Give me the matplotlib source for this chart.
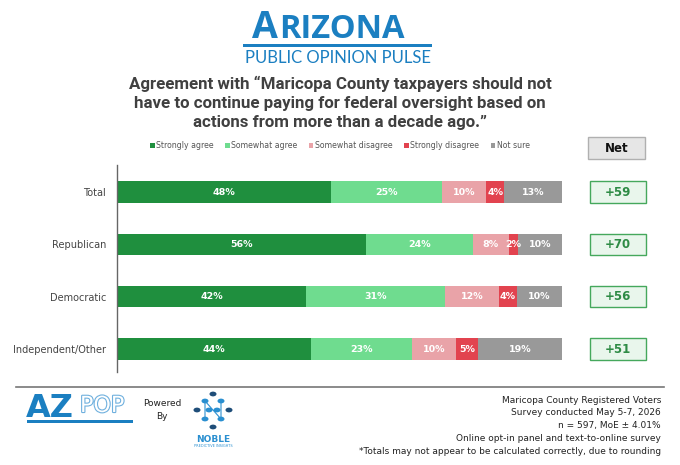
import numpy as np
import matplotlib
matplotlib.use("Agg")
import matplotlib.pyplot as plt
import matplotlib.patheffects as pe
from matplotlib.patches import Rectangle, Circle

W, H = 680, 465

groups = ["Total", "Republican", "Democratic", "Independent/Other"]
responses = ["Strongly agree", "Somewhat agree", "Somewhat disagree", "Strongly disagree", "Not sure"]
strongly_agree = [48, 56, 42, 44]
somewhat_agree = [25, 24, 31, 23]
somewhat_disagree = [10, 8, 12, 10]
strongly_disagree = [4, 2, 4, 5]
not_sure = [13, 10, 10, 19]
net = ["+59", "+70", "+56", "+51"]

colors = ["#1f8f3e", "#6fdc8f", "#e9a3a8", "#e2434f", "#999999"]
series = [strongly_agree, somewhat_agree, somewhat_disagree, strongly_disagree, not_sure]


def fx(px):
    return px / W


def fy(py):
    return 1 - py / H


fig = plt.figure(figsize=(6.8, 4.65), dpi=100)
fig.patch.set_facecolor("white")

# main bar axes - rows are scaled to fill 100% (rounding)
ax = fig.add_axes([fx(117), fy(372), fx(562) - fx(117), (372 - 165) / H])
y = np.arange(len(groups))
totals = np.sum(np.array(series), axis=0)
left = np.zeros(len(groups))
bars = []
for vals, col, name in zip(series, colors, responses):
    widths = np.array(vals) / totals * 100
    b = ax.barh(y, widths, left=left, height=0.41, color=col, label=name)
    bars.append(b)
    for yi, (l, w, v) in enumerate(zip(left, widths, vals)):
        ax.text(l + w / 2, yi, f"{v}%", ha="center", va="center",
                color="white", fontsize=6.8, fontweight="bold")
    left = left + widths

ax.set_xlim(0, 100)
ax.set_ylim(3.44, -0.52)
ax.set_yticks(y)
ax.set_yticklabels(groups, fontsize=7, color="#444444")
ax.set_xticks([])
ax.tick_params(axis="y", length=0, pad=8)
for s in ["top", "right", "bottom"]:
    ax.spines[s].set_visible(False)
ax.spines["left"].set_color("#666666")
ax.spines["left"].set_linewidth(1.0)

# net boxes
for yi, n in enumerate(net):
    ax.add_patch(Rectangle((106.3, yi - 0.205), 12.5, 0.41, facecolor="#e9f6ec",
                           edgecolor="#45a85c", linewidth=1.0, clip_on=False))
    ax.text(112.55, yi, n, ha="center", va="center", fontsize=8.5,
            fontweight="bold", color="#2e8b45", clip_on=False)

fig.patches.append(Rectangle((fx(588), fy(159)), fx(57), 22 / H, transform=fig.transFigure,
                             facecolor="#e6e6e6", edgecolor="#b0b0b0", linewidth=1.0))
fig.text(fx(616.5), fy(148), "Net", ha="center", va="center", fontsize=8.5,
         fontweight="bold", color="#111111")

# legend
fig.legend(handles=bars, labels=responses, loc="center", bbox_to_anchor=(fx(340), fy(146)),
           ncol=5, frameon=False, fontsize=5.6, handlelength=0.55, handleheight=0.55,
           handletextpad=0.2, columnspacing=1.5, labelcolor="#555555")

# header logo
fig.text(fx(252), fy(38), "A", ha="left", va="baseline", fontsize=27,
         fontweight="bold", color="#1b7fc1", family="Open Sans")
fig.text(fx(279), fy(38), "RIZONA", ha="left", va="baseline", fontsize=23.5,
         fontweight="bold", color="#1b7fc1", family="Open Sans")
fig.patches.append(Rectangle((fx(243), fy(47)), fx(189), 3 / H, transform=fig.transFigure,
                             facecolor="#1b7fc1", edgecolor="none"))
fig.text(fx(338), fy(58), "PUBLIC OPINION PULSE", ha="center", va="center", fontsize=12,
         color="#1b7fc1", family="Lato")

# title
fig.text(fx(340), fy(103),
         "Agreement with \u201cMaricopa County taxpayers should not\n"
         "have to continue paying for federal oversight based on\n"
         "actions from more than a decade ago.\u201d",
         ha="center", va="center", fontsize=12.2, fontweight="bold", color="#404040",
         family="Roboto", linespacing=1.35)

# footer separator
fig.lines.append(plt.Line2D([fx(16), fx(664)], [fy(387), fy(387)], transform=fig.transFigure,
                            color="#777777", linewidth=1.2))

# AZPOP logo
fig.text(fx(26), fy(408), "AZ", ha="left", va="center", fontsize=23, fontweight="bold",
         color="#1b7fc1", family="DejaVu Sans")
fig.text(fx(80), fy(406), "POP", ha="left", va="center", fontsize=16, color="white",
         family="DejaVu Sans",
         path_effects=[pe.withStroke(linewidth=1.6, foreground="#6fb0de")])
fig.patches.append(Rectangle((fx(27), fy(423)), fx(106), 3 / H, transform=fig.transFigure,
                             facecolor="#1b7fc1", edgecolor="none"))
fig.text(fx(162), fy(404), "Powered", ha="center", va="center", fontsize=6.5, color="#222222")
fig.text(fx(162), fy(416), "By", ha="center", va="center", fontsize=6.5, color="#222222")

# Noble logo
dots = [(213, 394, "#1f4e79"), (205, 401, "#2a8fd0"), (221, 401, "#2a8fd0"),
        (197, 410, "#1f4e79"), (229, 410, "#1f4e79"), (209, 410, "#2a8fd0"),
        (217, 410, "#2a8fd0"), (205, 419, "#2a8fd0"), (221, 419, "#2a8fd0"),
        (213, 427, "#1f4e79")]
for (px, py, c) in dots:
    fig.patches.append(Circle((fx(px), fy(py)), 3.5 / W, transform=fig.transFigure,
                              facecolor=c, edgecolor="none"))
fig.lines.append(plt.Line2D([fx(205), fx(205), fx(221), fx(221)],
                            [fy(419), fy(401), fy(419), fy(401)], transform=fig.transFigure,
                            color="#2a8fd0", linewidth=0.8))
fig.text(fx(213), fy(439), "NOBLE", ha="center", va="center", fontsize=6.5,
         fontweight="bold", color="#2a8fd0")
fig.text(fx(213), fy(446), "PREDICTIVE INSIGHTS", ha="center", va="center", fontsize=2.5,
         color="#2a8fd0")

# footer notes
notes = ["Maricopa County Registered Voters", "Survey conducted May 5-7, 2026",
         "n = 597, MoE \u00b1 4.01%", "Online opt-in panel and text-to-online survey",
         "*Totals may not appear to be calculated correctly, due to rounding"]
for i, line in enumerate(notes):
    fig.text(fx(661), fy(400 + 12.8 * i), line, ha="right", va="center", fontsize=6.5,
             color="#222222")

fig.savefig("out.png", dpi=100)
